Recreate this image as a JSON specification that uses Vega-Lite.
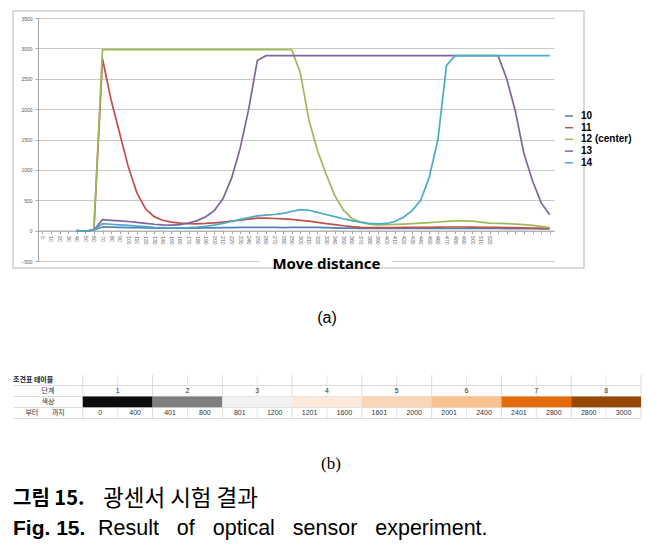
{
"$schema": "https://vega.github.io/schema/vega-lite/v6.json",
"padding": {"left": 12, "top": 10, "right": 0, "bottom": 0},
"autosize": {"type": "pad"},
"background": "white",
"spacing": 36,
"config": {"font": "Liberation Sans", "view": {"stroke": null}},
"resolve": {"scale": {"x": "independent", "y": "independent", "color": "independent"}},
"vconcat": [
{
 "width": 571, "height": 257,
 "view": {"stroke": "#d0d0d0", "strokeWidth": 1.5},
 "data": {"values": [
{"d":40,"10":0,"11":0,"12 (center)":0,"13":0,"14":0},
{"d":50,"10":-10,"11":-10,"12 (center)":-10,"13":-10,"14":-10},
{"d":60,"10":10,"11":15,"12 (center)":20,"13":15,"14":10},
{"d":70,"10":60,"11":2830,"12 (center)":2980,"13":180,"14":115},
{"d":80,"10":58,"11":2150,"12 (center)":2980,"13":170,"14":105},
{"d":90,"10":55,"11":1600,"12 (center)":2980,"13":160,"14":95},
{"d":100,"10":50,"11":1050,"12 (center)":2980,"13":150,"14":85},
{"d":110,"10":47,"11":620,"12 (center)":2980,"13":135,"14":75},
{"d":120,"10":44,"11":360,"12 (center)":2980,"13":120,"14":65},
{"d":130,"10":42,"11":230,"12 (center)":2980,"13":105,"14":55},
{"d":140,"10":40,"11":170,"12 (center)":2980,"13":95,"14":50},
{"d":150,"10":40,"11":140,"12 (center)":2980,"13":90,"14":47},
{"d":160,"10":40,"11":125,"12 (center)":2980,"13":100,"14":47},
{"d":170,"10":40,"11":115,"12 (center)":2980,"13":125,"14":50},
{"d":180,"10":42,"11":112,"12 (center)":2980,"13":165,"14":58},
{"d":190,"10":44,"11":118,"12 (center)":2980,"13":230,"14":72},
{"d":200,"10":46,"11":128,"12 (center)":2980,"13":330,"14":92},
{"d":210,"10":48,"11":140,"12 (center)":2980,"13":525,"14":118},
{"d":220,"10":50,"11":155,"12 (center)":2980,"13":860,"14":150},
{"d":230,"10":52,"11":172,"12 (center)":2980,"13":1350,"14":185},
{"d":240,"10":54,"11":190,"12 (center)":2980,"13":2000,"14":215},
{"d":250,"10":55,"11":205,"12 (center)":2980,"13":2800,"14":242},
{"d":260,"10":54,"11":205,"12 (center)":2980,"13":2880,"14":255},
{"d":270,"10":52,"11":200,"12 (center)":2980,"13":2880,"14":265},
{"d":280,"10":50,"11":195,"12 (center)":2980,"13":2880,"14":285},
{"d":290,"10":52,"11":185,"12 (center)":2980,"13":2880,"14":315},
{"d":300,"10":55,"11":170,"12 (center)":2600,"13":2880,"14":345},
{"d":310,"10":55,"11":155,"12 (center)":1820,"13":2880,"14":335},
{"d":320,"10":52,"11":135,"12 (center)":1320,"13":2880,"14":300},
{"d":330,"10":48,"11":115,"12 (center)":930,"13":2880,"14":265},
{"d":340,"10":45,"11":100,"12 (center)":580,"13":2880,"14":230},
{"d":350,"10":42,"11":80,"12 (center)":340,"13":2880,"14":195},
{"d":360,"10":40,"11":65,"12 (center)":200,"13":2880,"14":165},
{"d":370,"10":38,"11":55,"12 (center)":140,"13":2880,"14":140},
{"d":380,"10":36,"11":50,"12 (center)":105,"13":2880,"14":120},
{"d":390,"10":35,"11":50,"12 (center)":95,"13":2880,"14":112},
{"d":400,"10":35,"11":50,"12 (center)":98,"13":2880,"14":118},
{"d":410,"10":35,"11":50,"12 (center)":102,"13":2880,"14":150},
{"d":420,"10":35,"11":52,"12 (center)":108,"13":2880,"14":220},
{"d":430,"10":35,"11":55,"12 (center)":115,"13":2880,"14":330},
{"d":440,"10":35,"11":55,"12 (center)":122,"13":2880,"14":500},
{"d":450,"10":35,"11":55,"12 (center)":132,"13":2880,"14":880},
{"d":460,"10":35,"11":58,"12 (center)":142,"13":2880,"14":1500},
{"d":470,"10":35,"11":60,"12 (center)":152,"13":2880,"14":2720},
{"d":480,"10":35,"11":60,"12 (center)":160,"13":2880,"14":2880},
{"d":490,"10":35,"11":60,"12 (center)":160,"13":2880,"14":2880},
{"d":500,"10":35,"11":58,"12 (center)":155,"13":2880,"14":2880},
{"d":510,"10":35,"11":55,"12 (center)":140,"13":2880,"14":2880},
{"d":520,"10":35,"11":55,"12 (center)":125,"13":2880,"14":2880},
{"d":530,"10":35,"11":52,"12 (center)":120,"13":2880,"14":2880},
{"d":540,"10":34,"11":50,"12 (center)":115,"13":2500,"14":2880},
{"d":550,"10":33,"11":48,"12 (center)":108,"13":1970,"14":2880},
{"d":560,"10":32,"11":45,"12 (center)":98,"13":1270,"14":2880},
{"d":570,"10":31,"11":42,"12 (center)":85,"13":820,"14":2880},
{"d":580,"10":30,"11":40,"12 (center)":70,"13":460,"14":2880},
{"d":590,"10":28,"11":35,"12 (center)":50,"13":260,"14":2880}
 ]},
 "transform": [{"fold": ["10","11","12 (center)","13","14"], "as": ["series","value"]}],
 "mark": {"type": "line", "strokeWidth": 1.7},
 "encoding": {
  "x": {"field": "d", "type": "quantitative",
   "scale": {"domain": [-5, 595], "range": [25, 541], "nice": false, "zero": false},
   "axis": {"values": [0,10,20,30,40,50,60,70,80,90,100,110,120,130,140,150,160,170,180,190,200,210,220,230,240,250,260,270,280,290,300,310,320,330,340,350,360,370,380,390,400,410,420,430,440,450,460,470,480,490,500,510,520,530,540,550,560,570,580,590],
    "format": "d", "offset": -37.4, "grid": false, "domainColor": "#a6a6a6", "tickColor": "#a6a6a6", "tickSize": 3,
    "labelAngle": 90, "labelFontSize": 5, "labelColor": "#595959", "labelPadding": 2,
    "labelExpr": "datum.value <= 520 ? datum.label : ''", "labelOverlap": false, "labelFlush": false,
    "title": "Move distance", "titleFont": "Noto Sans", "titleFontSize": 15, "titleFontWeight": "bold", "titleColor": "#000000",
    "titleX": 313, "titleAlign": "center", "titlePadding": 13}},
  "y": {"field": "value", "type": "quantitative",
   "scale": {"domain": [-500, 3500], "range": [250, 7], "nice": false, "zero": false},
   "axis": {"values": [-500,0,500,1000,1500,2000,2500,3000,3500], "format": "d", "offset": -25, "grid": true, "gridColor": "#c8c8c8", "gridWidth": 1.2,
    "gridDash": {"condition": {"test": "datum.value === -500", "value": [221, 132, 300]}, "value": []},
    "domainColor": "#a6a6a6", "tickColor": "#a6a6a6", "tickSize": 3, "labelFontSize": 5, "labelColor": "#595959", "labelPadding": 3, "title": null}},
  "color": {"field": "series", "type": "nominal",
   "scale": {"domain": ["10","11","12 (center)","13","14"], "range": ["#4F81BD","#C0504D","#9BBB59","#8064A2","#4BACC6"]},
   "legend": {"orient": "none", "legendX": 551, "legendY": 100, "title": null, "symbolType": "stroke", "symbolSize": 64, "symbolStrokeWidth": 1.5,
    "labelFont": "Liberation Sans", "labelFontSize": 10, "labelFontWeight": "bold", "labelColor": "#000000", "labelOffset": 7, "rowPadding": 1.7, "padding": 0}}
 }
},
{
 "width": 628, "height": 43,
 "title": {"text": "(a)", "orient": "top", "anchor": "middle", "frame": "group", "font": "Liberation Sans", "fontSize": 16, "fontWeight": "normal", "color": "#000000", "offset": 49},
 "data": {"values": [
  {"level":"1","from":"0","to":"400"},
  {"level":"2","from":"401","to":"800"},
  {"level":"3","from":"801","to":"1200"},
  {"level":"4","from":"1201","to":"1600"},
  {"level":"5","from":"1601","to":"2000"},
  {"level":"6","from":"2001","to":"2400"},
  {"level":"7","from":"2401","to":"2800"},
  {"level":"8","from":"2800","to":"3000"}
 ]},
 "layer": [
  {"mark": {"type": "rule", "color": "#dcdcdc", "strokeWidth": 1},
   "encoding": {
    "x": {"field": "level", "type": "ordinal", "bandPosition": 0,
     "scale": {"domain": ["L","1","2","3","4","5","6","7","8"], "paddingInner": 0, "paddingOuter": 0}, "axis": null},
    "y": {"datum": "title", "type": "ordinal", "bandPosition": 0,
     "scale": {"domain": ["title","step","color","range"], "paddingInner": 0, "paddingOuter": 0},
     "axis": {"grid": true, "bandPosition": 1, "labels": false, "ticks": false, "domain": false, "title": null, "gridColor": "#dcdcdc"}},
    "y2": {"datum": "range", "bandPosition": 1}}},
  {"mark": {"type": "rule", "color": "#e6e6e6", "strokeWidth": 1},
   "encoding": {
    "x": {"field": "level", "type": "ordinal", "bandPosition": 0.5},
    "y": {"datum": "title", "type": "ordinal", "bandPosition": 0},
    "y2": {"datum": "range", "bandPosition": 1}}},
  {"data": {"values": [{"c": "8"}]},
   "mark": {"type": "rule", "color": "#dcdcdc", "strokeWidth": 1},
   "encoding": {
    "x": {"field": "c", "type": "ordinal", "bandPosition": 1},
    "y": {"datum": "title", "type": "ordinal", "bandPosition": 0},
    "y2": {"datum": "range", "bandPosition": 1}}},
  {"mark": {"type": "rect"},
   "encoding": {
    "x": {"field": "level", "type": "ordinal"},
    "y": {"datum": "color", "type": "ordinal"},
    "color": {"field": "level", "type": "ordinal", "legend": null,
     "scale": {"domain": ["1","2","3","4","5","6","7","8"], "range": ["#0d0d0d","#7f7f7f","#f2f2f2","#fde9d9","#fbd5b5","#fac08f","#e36c09","#974806"]}}}},
  {"mark": {"type": "text", "font": "Liberation Sans", "fontSize": 7, "color": "#333333"},
   "encoding": {
    "x": {"field": "level", "type": "ordinal", "bandPosition": 0.5},
    "y": {"datum": "step", "type": "ordinal"},
    "text": {"field": "level"}}},
  {"mark": {"type": "text", "font": "Liberation Sans", "fontSize": 7, "color": "#333333"},
   "encoding": {
    "x": {"field": "level", "type": "ordinal", "bandPosition": 0.25},
    "y": {"datum": "range", "type": "ordinal"},
    "text": {"field": "from"}}},
  {"mark": {"type": "text", "font": "Liberation Sans", "fontSize": 7, "color": "#333333"},
   "encoding": {
    "x": {"field": "level", "type": "ordinal", "bandPosition": 0.75},
    "y": {"datum": "range", "type": "ordinal"},
    "text": {"field": "to"}}},
  {"data": {"values": [{"t": "조견표 테이블"}]},
   "mark": {"type": "text", "font": "Noto Sans CJK KR", "fontSize": 7, "fontWeight": "bold", "color": "#222222", "align": "left"},
   "encoding": {
    "x": {"datum": "L", "type": "ordinal", "bandPosition": 0},
    "y": {"datum": "title", "type": "ordinal"},
    "text": {"field": "t"}}},
  {"data": {"values": [{"t": "단계"}]},
   "mark": {"type": "text", "font": "Noto Sans CJK KR", "fontSize": 7, "color": "#333333"},
   "encoding": {
    "x": {"datum": "L", "type": "ordinal", "bandPosition": 0.5},
    "y": {"datum": "step", "type": "ordinal"},
    "text": {"field": "t"}}},
  {"data": {"values": [{"t": "색상"}]},
   "mark": {"type": "text", "font": "Noto Sans CJK KR", "fontSize": 7, "color": "#333333"},
   "encoding": {
    "x": {"datum": "L", "type": "ordinal", "bandPosition": 0.5},
    "y": {"datum": "color", "type": "ordinal"},
    "text": {"field": "t"}}},
  {"data": {"values": [{"t": "부터"}]},
   "mark": {"type": "text", "font": "Noto Sans CJK KR", "fontSize": 7, "color": "#333333"},
   "encoding": {
    "x": {"datum": "L", "type": "ordinal", "bandPosition": 0.27},
    "y": {"datum": "range", "type": "ordinal"},
    "text": {"field": "t"}}},
  {"data": {"values": [{"t": "까지"}]},
   "mark": {"type": "text", "font": "Noto Sans CJK KR", "fontSize": 7, "color": "#333333"},
   "encoding": {
    "x": {"datum": "L", "type": "ordinal", "bandPosition": 0.65},
    "y": {"datum": "range", "type": "ordinal"},
    "text": {"field": "t"}}}
 ]
},
{
 "width": 636, "height": 62,
 "title": {"text": "(b)", "orient": "top", "anchor": "middle", "frame": "group", "font": "Liberation Serif", "fontSize": 17, "fontWeight": "normal", "color": "#000000", "offset": 8},
 "data": {"values": [
  {"line": "kr", "head": "그림 15.", "body": "광센서 시험 결과"},
  {"line": "en", "head": "Fig. 15.", "body": "Result \u00a0\u00a0of \u00a0\u00a0optical \u00a0\u00a0sensor \u00a0\u00a0experiment."}
 ]},
 "encoding": {
  "y": {"field": "line", "type": "nominal", "scale": {"domain": ["kr","en"], "paddingInner": 0, "paddingOuter": 0}, "axis": null},
  "x": {"datum": 0, "type": "quantitative", "scale": {"domain": [0, 1], "nice": false}, "axis": null}
 },
 "layer": [
  {"transform": [{"filter": "datum.line === 'kr'"}],
   "mark": {"type": "text", "align": "left", "dy": 2, "font": "Noto Sans CJK KR", "fontSize": 20, "fontWeight": "bold", "color": "#000000"},
   "encoding": {"text": {"field": "head"}}},
  {"transform": [{"filter": "datum.line === 'kr'"}],
   "mark": {"type": "text", "align": "left", "dx": 90, "dy": 2, "font": "Noto Sans CJK KR", "fontSize": 22.5, "fontWeight": "normal", "color": "#000000"},
   "encoding": {"text": {"field": "body"}}},
  {"transform": [{"filter": "datum.line === 'en'"}],
   "mark": {"type": "text", "align": "left", "dy": 1, "font": "Liberation Sans", "fontSize": 21, "fontWeight": "bold", "color": "#000000"},
   "encoding": {"text": {"field": "head"}}},
  {"transform": [{"filter": "datum.line === 'en'"}],
   "mark": {"type": "text", "align": "left", "dx": 85, "dy": 1, "font": "Liberation Sans", "fontSize": 21.5, "fontWeight": "normal", "color": "#000000"},
   "encoding": {"text": {"field": "body"}}}
 ]
}
]
}
